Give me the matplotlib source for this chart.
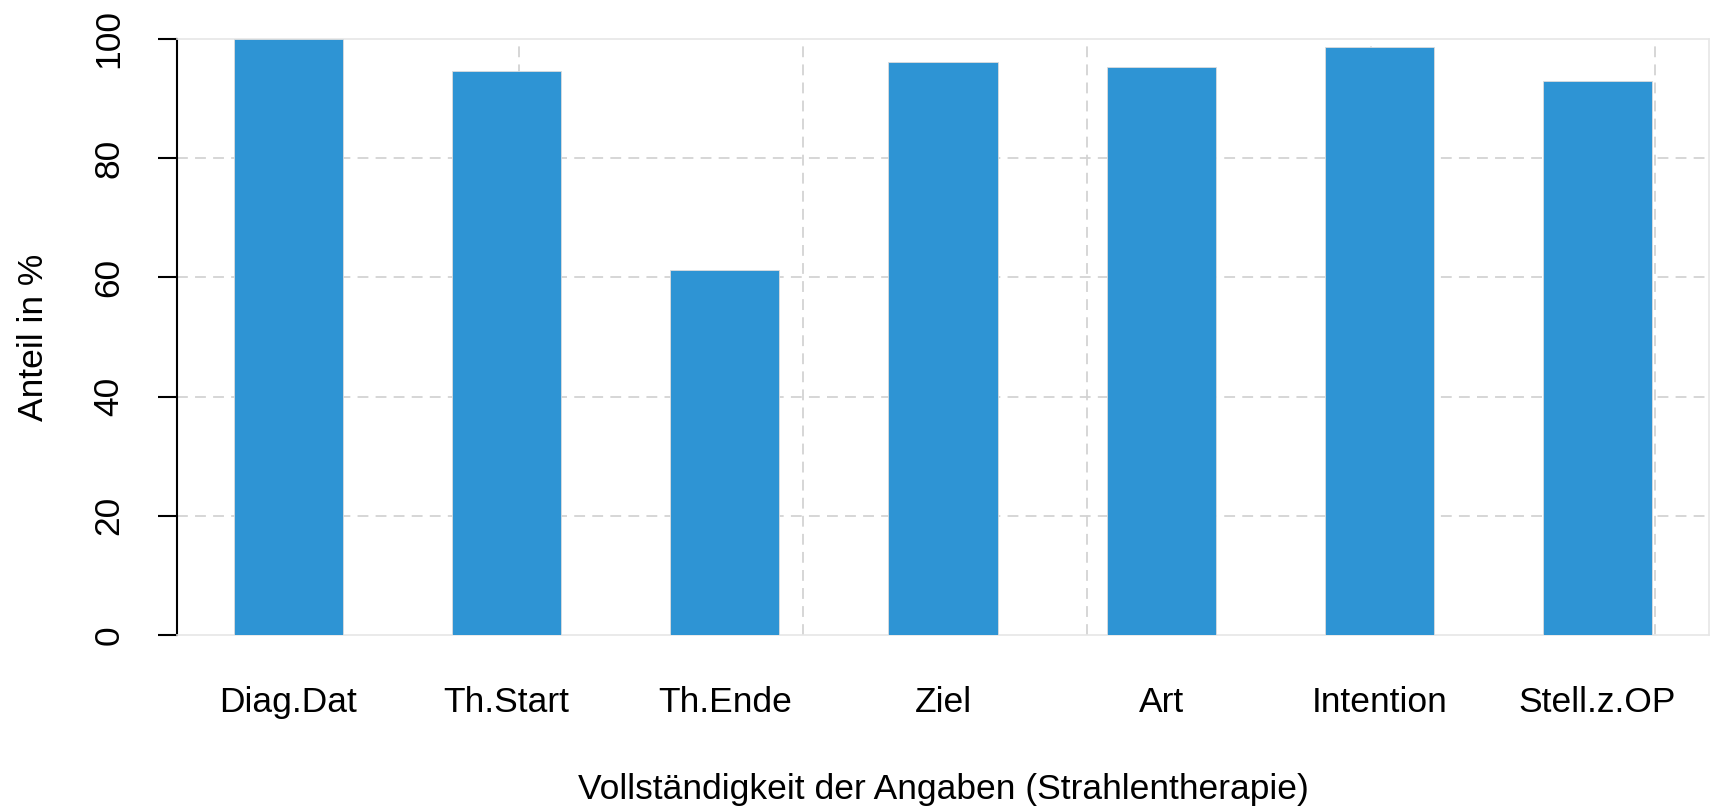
import numpy as np
from matplotlib import pyplot as plt

categories = ["Diag.Dat", "Th.Start", "Th.Ende", "Ziel", "Art", "Intention", "Stell.z.OP"]
values = [100.0, 94.6, 61.3, 96.1, 95.2, 98.6, 93.0]
y_ticks = [0, 20, 40, 60, 80, 100]

plt.rcParams['font.family'] = ['Liberation Sans', 'DejaVu Sans']
fs = 25.5

fig = plt.figure(figsize=(17.14, 8.10), dpi=100)
ax = fig.add_axes([0.1033, 0.216, 0.8937, 0.736])

# R-style barplot: width 1, space 1
x = np.arange(len(categories)) * 2 + 1.5
ax.bar(x, values, width=1.0, color='#2E94D4', edgecolor='#dcdcdc', linewidth=0.6, zorder=3)

ax.set_xlim(0.48, 14.52)
ax.set_ylim(0, 100)

# grid like R's grid(): dashed light gray
grid_kw = dict(color='#d3d3d3', linewidth=1.3, linestyle=(0, (6, 4)), zorder=1)
for yv in y_ticks[1:-1]:
    ax.axhline(yv, **grid_kw)
for gx in 3.615 + 2.603 * np.arange(5):
    ax.axvline(gx, **grid_kw)

for side in ['top', 'right', 'bottom']:
    ax.spines[side].set_color('#e6e6e6')
    ax.spines[side].set_linewidth(1.2)
ax.spines['left'].set_color('black')
ax.spines['left'].set_linewidth(1.5)

ax.set_yticks(y_ticks)
ax.set_yticklabels([str(t) for t in y_ticks], rotation=90, va='center', fontsize=fs)
ax.tick_params(axis='y', length=14, width=1.5, pad=23)

ax.set_xticks(x)
ax.set_xticklabels(categories, fontsize=fs)
ax.tick_params(axis='x', length=0, pad=37)

ax.set_xlabel('Vollständigkeit der Angaben (Strahlentherapie)', fontsize=fs)
ax.xaxis.set_label_coords(0.5, -0.259)
ax.xaxis.label.set_va('center')
ax.set_ylabel('Anteil in %', fontsize=fs)
ax.yaxis.set_label_coords(-0.094, 0.5)
ax.yaxis.label.set_va('center')

plt.savefig('out.png', dpi=100)
